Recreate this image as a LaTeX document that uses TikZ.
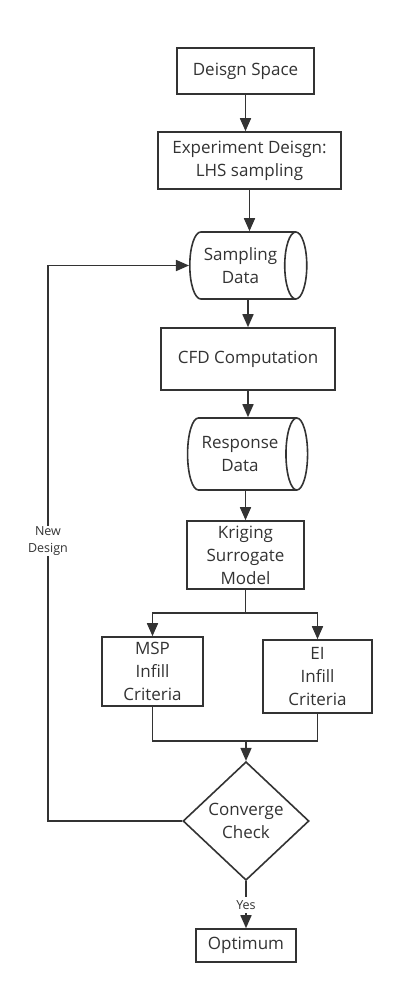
\documentclass[tikz,border=0pt]{standalone}
\usepackage{fontspec}
\setmainfont{Open Sans}
\usetikzlibrary{shapes.geometric,arrows.meta}
\definecolor{ink}{HTML}{333333}

\begin{document}
\begin{tikzpicture}[x=1pt, y=-1pt,
  box/.style={draw=ink, line width=1.6pt, text=ink, align=center, inner sep=2pt,
    font=\fontsize{17}{23}\selectfont},
  store/.style={box, cylinder, aspect=0.55},
  check/.style={box, diamond},
  arr/.style={draw=ink, line width=1.6pt, -{Triangle[length=13pt,width=11pt]}},
  line/.style={draw=ink, line width=1.6pt},
  note/.style={text=ink, align=center, font=\fontsize{12.5}{17}\selectfont}]
\fill[white] (0,0) rectangle (404,994);
\useasboundingbox (0,0) rectangle (404,994);

\node[box, minimum width=137pt, minimum height=46pt] (space) at (245.5,71) {Deisgn Space};
\node[box, minimum width=183pt, minimum height=57pt] (exp) at (249.5,160.5) {Experiment Deisgn:\\LHS sampling};
\node[store, minimum height=117pt, minimum width=67pt] (samp) at (240.5,265.5) {Sampling\\Data};
\node[box, minimum width=174pt, minimum height=62pt] (cfd) at (248,359) {CFD Computation};
\node[store, minimum height=120pt, minimum width=72pt] (resp) at (240,454) {Response\\Data};
\node[box, minimum width=117pt, minimum height=68pt] (krig) at (245.5,555) {Kriging\\Surrogate\\Model};
\node[box, minimum width=101pt, minimum height=69pt] (msp) at (152.5,671.5) {MSP\\Infill\\Criteria};
\node[box, minimum width=109pt, minimum height=73pt] (ei) at (317.5,676.5) {EI\\Infill\\Criteria};
\node[check, minimum width=126pt, minimum height=112pt] (conv) at (246,821) {Converge\\Check};
\node[box, minimum width=100pt, minimum height=33pt] (opt) at (246,945.5) {Optimum};

\draw[arr] (space.south) -- (space.south |- exp.north);
\draw[arr] (exp.south) -- (exp.south |- samp.north);
\draw[arr] (cfd.north |- samp.south) -- (cfd.north);
\draw[arr] (cfd.south) -- (cfd.south |- resp.north);
\draw[arr] (krig.north |- resp.south) -- (krig.north);

\draw[line] (krig.south) -- ++(0,23) coordinate (fork);
\draw[arr] (fork) -| (msp.north);
\draw[arr] (fork) -| (ei.north);

\coordinate (join) at (246,741);
\draw[line] (msp.south) |- (join);
\draw[line] (ei.south) |- (join);
\draw[arr] (join) -- (conv.north);

\coordinate (back) at (48,0);
\draw[arr] (conv.west) -- (conv.west -| back) |- (samp.west);
\node[note, fill=white, inner sep=1pt] (newd) at (48,541) {New\\Design};

\draw[arr] (conv.south) -- (opt.north) node[note, fill=white, midway] (yes) {Yes};
\end{tikzpicture}
\end{document}
